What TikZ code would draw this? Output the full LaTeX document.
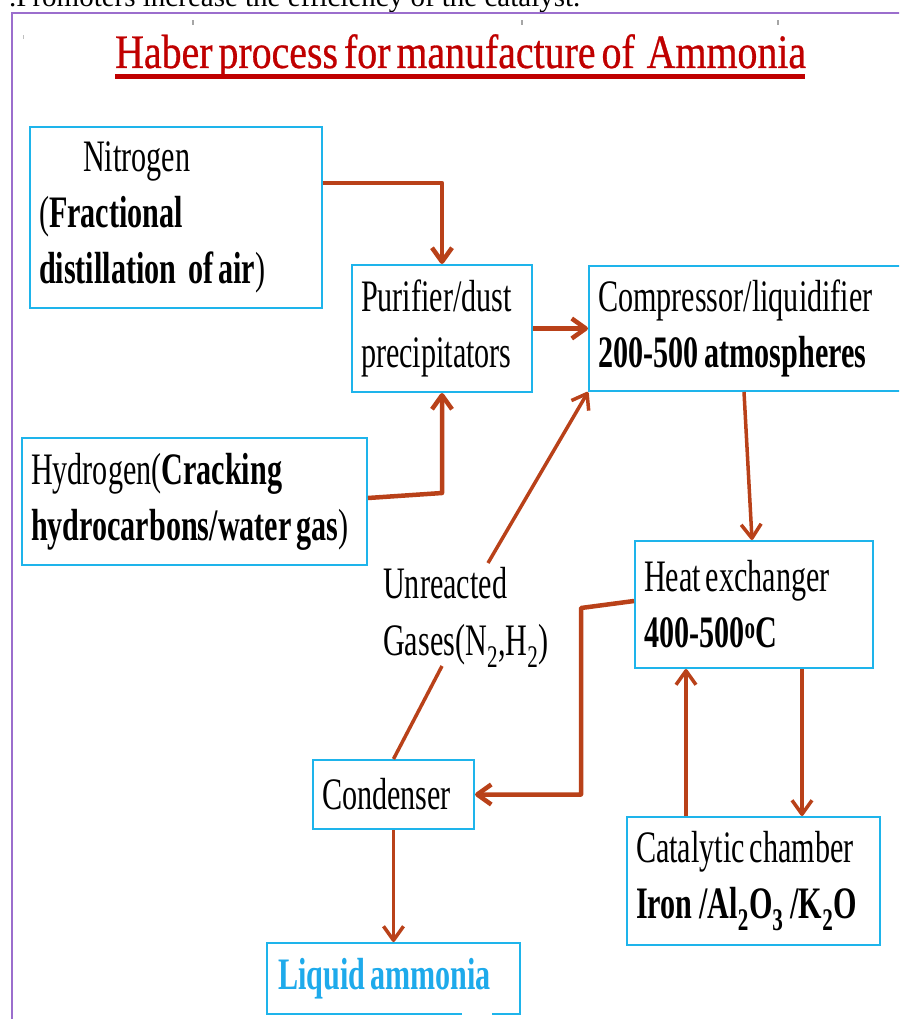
\documentclass[tikz,border=0pt]{standalone}
\usepackage{fontspec}
\setmainfont[FakeStretch=0.67]{Liberation Serif}
\newfontfamily\plainserif{Liberation Serif}
\newfontfamily\titleserif[FakeStretch=0.83,FakeBold=0.6]{Liberation Serif}
\newcommand\boxfnt{\fontsize{45}{56}\selectfont\spaceskip=5pt\relax}
\newcommand\titlefnt{\titleserif\fontsize{48}{56}\selectfont\spaceskip=6pt\relax}
\newcommand\cutfnt{\plainserif\fontsize{29}{34}\selectfont}
\usetikzlibrary{arrows.meta}
\definecolor{boxcyan}{RGB}{30,180,235}
\definecolor{arrowred}{RGB}{185,65,25}
\definecolor{titlered}{RGB}{192,0,0}
\definecolor{framepurple}{RGB}{155,110,205}
\definecolor{liqcyan}{RGB}{30,170,235}
\tikzset{
  box/.style={draw=boxcyan, line width=2pt, anchor=north west, inner xsep=9pt, inner ysep=0pt,
    align=flush left, font=\boxfnt, text=black},
  arr/.style={draw=arrowred, line width=3.5pt, line join=round,
    -{Straight Barb[length=14pt,width=20pt,line join=round]}},
  link/.style={draw=arrowred, line width=3.5pt},
}
\begin{document}
\begin{tikzpicture}[x=1pt,y=-1pt]
\useasboundingbox (0,0) rectangle (899,1019);
\clip (0,0) rectangle (899,1019);
% cut-off line at the top
\node[anchor=base west, inner sep=0pt, font=\cutfnt] (cut) at (9,7) {.Promoters increase the efficiency of the catalyst.};
% frame
\draw[framepurple, line width=2.5pt] (12,1030) -- (12,13) -- (910,13);
% specks
\fill[gray!70] (192,20) rectangle (193.5,25);
\fill[gray!70] (521,20) rectangle (522.5,25);
\fill[gray!70] (777,20) rectangle (778.5,25);
\fill[gray!50] (23,35) rectangle (24.2,39);
% title
\node[anchor=base west, inner sep=0pt, text=titlered, font=\titlefnt] (title) at (115,68) {Haber process for manufacture of\ \ Ammonia};
\draw[titlered, line width=5pt] (115,77) -- (805,77);
% boxes
\node[box, minimum width=292pt, minimum height=181pt, text width=274pt] (nit) at (29,126)
  {\hspace*{44pt}Nitrogen\\(\textbf{Fractional}\\\mbox{\textbf{distillation\hspace{12pt}of air})}};
\node[box, minimum width=180pt, minimum height=127pt, text width=162pt] (pur) at (351,264)
  {Purifier/dust\\precipitators};
\node[box, minimum width=317pt, minimum height=125pt, text width=299pt] (comp) at (588,265)
  {Compressor/liquidifier\\\mbox{\textbf{200-500\hspace{6pt}atmospheres}}};
\node[box, minimum width=345pt, minimum height=127pt, text width=327pt] (hyd) at (21,437)
  {\mbox{Hydrogen(\textbf{Cracking}}\\\mbox{\textbf{hydrocarbons/water gas})}};
\node[box, minimum width=238pt, minimum height=127pt, text width=220pt] (he) at (634,540)
  {\mbox{Heat exchanger}\\\textbf{400-500\textsuperscript{o}C}};
\node[box, minimum width=161pt, minimum height=69pt, text width=143pt] (cond) at (312,759)
  {Condenser};
\node[box, minimum width=253pt, minimum height=128pt, text width=235pt] (cat) at (626,816)
  {\mbox{Catalytic chamber}\\\mbox{\textbf{Iron\hspace{7pt}/Al\textsubscript{2}O\textsubscript{3}\hspace{7pt}/K\textsubscript{2}O}}};
\node[box, minimum width=253pt, minimum height=71pt, text width=231pt, inner xsep=11pt, text=liqcyan] (liq) at (266,942)
  {\mbox{\textbf{Liquid ammonia}}};
\draw[white, line width=4pt] (462,1013) -- (492,1013);
% label
\node[anchor=north west, inner sep=0pt, align=left, font=\boxfnt] (unr) at (383,567)
  {Unreacted\\[1pt]Gases(N\textsubscript{2},H\textsubscript{2})};
\coordinate (ua) at (488,563);
\coordinate (ub) at (442,666);
% connectors
\draw[arr, line width=4.5pt] (nit.east |- 0,183) -| (pur.north);
\draw[arr, line width=4.5pt] (hyd.east |- 0,498) -- (pur.south |- 0,493) -- (pur.south);
\draw[arr, line width=4.5pt] (pur.east) -- (comp.west |- pur.east);
\draw[arr] (ua) -- (comp.south west);
\draw[arr] ([xshift=156pt]comp.south west) -- ([xshift=118pt]he.north west);
\draw[arr, line width=4.5pt] (he.west |- 0,601) -- (581,608) |- (cond.east);
\draw[link] (cond.north) -- (ub);
\draw[arr] (cond.south) -- (liq.north);
\draw[arr] ([xshift=60pt]cat.north west) -- ([xshift=52pt]he.south west);
\draw[arr] ([xshift=168pt]he.south west) -- ([xshift=176pt]cat.north west);
\end{tikzpicture}
\end{document}
